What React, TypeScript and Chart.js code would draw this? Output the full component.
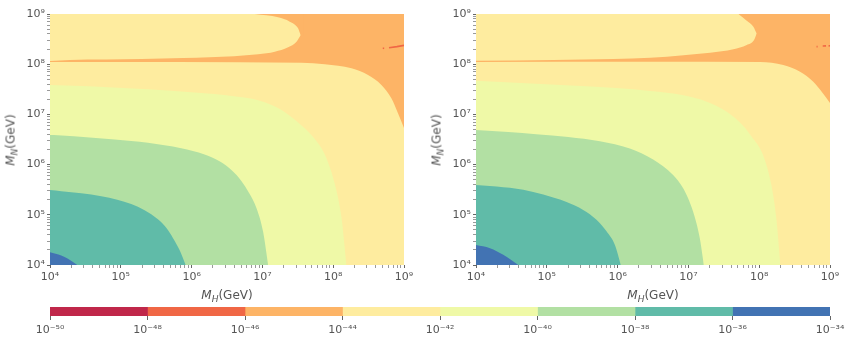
import React, { useEffect, useRef } from 'react';
import { Chart, registerables } from 'chart.js';

Chart.register(...registerables);

// ---------- colour levels (log10 of the quantity) ----------
const levelEdges = [-50, -48, -46, -44, -42, -40, -38, -36, -34];
const levelColors = ['#c0274a', '#f06745', '#fdb466', '#feec9f', '#eff9a7', '#b2e0a3', '#60bba8', '#4273b3'];

// ---------- axes ----------
const axisDecades = [4, 5, 6, 7, 8, 9];
const minorSteps = [2, 3, 4, 5, 6, 7, 8, 9];
const xTitle = 'H';
const yTitle = 'N';

// ---------- contour boundaries, [log10 M_H, log10 M_N] ----------
const fullTop = [[4, 9], [9, 9]];

// left panel
const leftBubbleLow = [[4, 8.064], [4.28, 8.084], [5.29, 8.104], [5.88, 8.124], [6.25, 8.14], [6.6, 8.16], [6.94, 8.197], [7.175, 8.249], [7.363, 8.337], [7.482, 8.448], [7.542, 8.582]];
const leftBubbleUp = [[6.893, 9.0], [7.222, 8.934], [7.387, 8.847], [7.504, 8.715], [7.542, 8.582], [7.575, 8.56]];
const leftYellow = [[4, 8.044], [7.552, 8.03], [7.881, 7.998], [8.258, 7.918], [8.492, 7.785], [8.681, 7.586], [8.822, 7.321], [8.915, 7.022], [9, 6.73]];
const leftLime = [[4, 7.586], [4.44, 7.566], [4.82, 7.54], [5.38, 7.5], [5.95, 7.446], [6.32, 7.406], [6.6, 7.36], [6.94, 7.28], [7.27, 7.088], [7.504, 6.84], [7.716, 6.55], [7.881, 6.2], [8.022, 5.62], [8.117, 4.95], [8.187, 4.0]];
const leftGreen = [[4, 6.59], [4.11, 6.585], [4.56, 6.54], [4.913, 6.5], [5.383, 6.435], [5.853, 6.325], [6.183, 6.2], [6.413, 6.05], [6.57, 5.88], [6.7, 5.68], [6.81, 5.44], [6.917, 5.129], [7.01, 4.663], [7.081, 4.0]];
const leftTeal = [[4, 5.494], [4.16, 5.47], [4.442, 5.43], [4.724, 5.37], [4.95, 5.3], [5.147, 5.215], [5.336, 5.09], [5.524, 4.91], [5.642, 4.74], [5.736, 4.54], [5.83, 4.299], [5.917, 4.0]];
const leftBlue = [[4, 4.253], [4.159, 4.19], [4.254, 4.125], [4.385, 4.0]];
const leftStreaks = [[[8.7, 8.317], [8.72, 8.317]], [[8.788, 8.329], [8.9, 8.35], [9, 8.376]]];

// right panel
const rightBubbleLow = [[4, 8.07], [5.091, 8.084], [5.938, 8.104], [6.46, 8.129], [6.93, 8.18], [7.307, 8.229], [7.635, 8.297], [7.824, 8.382], [7.927, 8.482], [7.966, 8.616]];
const rightBubbleUp = [[7.706, 9.0], [7.824, 8.867], [7.918, 8.747], [7.966, 8.616], [7.998, 8.595]];
const rightYellow = [[4, 8.044], [6.46, 8.05], [8.012, 8.044], [8.341, 7.984], [8.577, 7.851], [8.764, 7.651], [8.883, 7.452], [9, 7.227]];
const rightLime = [[4, 7.671], [4.569, 7.631], [5.274, 7.58], [5.98, 7.525], [6.46, 7.466], [6.93, 7.38], [7.26, 7.253], [7.542, 7.054], [7.776, 6.77], [7.892, 6.56], [8.054, 6.191], [8.172, 5.594], [8.242, 4.93], [8.299, 4.0]];
const rightGreen = [[4, 6.689], [4.456, 6.65], [4.851, 6.605], [5.303, 6.55], [5.75, 6.465], [6.173, 6.32], [6.502, 6.1], [6.784, 5.793], [6.926, 5.528], [7.067, 5.062], [7.161, 4.532], [7.218, 4.0]];
const rightTeal = [[4, 5.594], [4.291, 5.565], [4.668, 5.5], [4.95, 5.405], [5.279, 5.255], [5.514, 5.096], [5.702, 4.9], [5.843, 4.67], [5.962, 4.398], [6.046, 4.0]];
const rightBlue = [[4, 4.398], [4.198, 4.335], [4.385, 4.205], [4.498, 4.1], [4.597, 4.0]];
const rightStreaks = [[[8.81, 8.35], [8.825, 8.35]], [[8.897, 8.363], [8.944, 8.365]], [[8.98, 8.366], [9, 8.367]]];

// ---------- helpers ----------
const TICK_COLOR = '#555555';
const FONT = 'DejaVu Sans';
const SUP: Record<string, string> = { '0': '⁰', '1': '¹', '2': '²', '3': '³', '4': '⁴', '5': '⁵', '6': '⁶', '7': '⁷', '8': '⁸', '9': '⁹', '-': '⁻' };

function powLabel(v: number): string {
  const l = Math.log10(v);
  const e = Math.round(l);
  if (Math.abs(l - e) > 1e-6) return '';
  return '10' + String(e).split('').map((c) => SUP[c]).join('');
}

function isPow(v: number): boolean {
  const l = Math.log10(v);
  return Math.abs(l - Math.round(l)) < 1e-6;
}

function logTicks() {
  const t: { value: number; major?: boolean }[] = [];
  axisDecades.forEach((d, i) => {
    t.push({ value: Math.pow(10, d), major: true });
    if (i < axisDecades.length - 1) minorSteps.forEach((m) => t.push({ value: m * Math.pow(10, d) }));
  });
  return t;
}

type Pt = number[];
interface Layer { pts: Pt[]; color: string; fill: string }

function axisOpts(isX: boolean) {
  return {
    type: 'logarithmic' as const,
    min: Math.pow(10, axisDecades[0]),
    max: Math.pow(10, axisDecades[axisDecades.length - 1]),
    afterBuildTicks: (s: any) => { s.ticks = logTicks(); },
    afterFit: (s: any) => { if (isX) s.height = 40; else s.width = 50; },
    ticks: {
      callback: (v: any) => powLabel(Number(v)),
      autoSkip: false,
      maxRotation: 0,
      minRotation: 0,
      color: TICK_COLOR,
      font: { family: FONT, size: 11 },
      padding: isX ? 3 : 2,
    },
    grid: {
      drawOnChartArea: false,
      drawTicks: true,
      tickLength: 3,
      tickWidth: 1,
      tickColor: (ctx: any) => (ctx.tick && isPow(ctx.tick.value) ? '#666666' : '#9a9a9a'),
    },
    border: { display: false },
  };
}

function Panel({ layers, streaks, left }: { layers: Layer[]; streaks: Pt[][]; left: number }) {
  const ref = useRef<HTMLCanvasElement>(null);
  useEffect(() => {
    const toXY = (p: Pt) => ({ x: Math.pow(10, p[0]), y: Math.pow(10, p[1]) });
    const ds: any[] = [];
    layers.forEach((l) =>
      ds.push({
        data: l.pts.map(toXY),
        fill: l.fill,
        backgroundColor: l.color,
        borderColor: 'rgba(0,0,0,0)',
        borderWidth: 0,
        pointRadius: 0,
        cubicInterpolationMode: 'monotone',
      })
    );
    streaks.forEach((s) =>
      ds.push({ data: s.map(toXY), fill: false, borderColor: levelColors[1], borderWidth: 1.6, pointRadius: 0 })
    );
    const n = ds.length;
    ds.forEach((d, i) => { d.order = n - i; });
    const chart = new Chart(ref.current as HTMLCanvasElement, {
      type: 'line',
      data: { datasets: ds },
      options: {
        animation: false,
        responsive: false,
        events: [],
        layout: { padding: { top: 14, right: 16, left: 0, bottom: 0 } },
        plugins: { legend: { display: false }, tooltip: { enabled: false } },
        elements: { point: { radius: 0 } },
        scales: { x: axisOpts(true) as any, y: axisOpts(false) as any },
      },
    });
    return () => chart.destroy();
  }, []);
  return <canvas ref={ref} width={420} height={305} style={{ position: 'absolute', left, top: 0 }} />;
}

function ColorBar() {
  const ref = useRef<HTMLCanvasElement>(null);
  useEffect(() => {
    const chart = new Chart(ref.current as HTMLCanvasElement, {
      type: 'bar',
      data: {
        labels: [''],
        datasets: levelColors.map((c, i) => ({
          data: [[Math.pow(10, levelEdges[i]), Math.pow(10, levelEdges[i + 1])]] as any,
          backgroundColor: c,
          borderWidth: 0,
          grouped: false,
          barPercentage: 1,
          categoryPercentage: 1,
        })),
      },
      options: {
        indexAxis: 'y',
        animation: false,
        responsive: false,
        events: [],
        layout: { padding: { top: 7, left: 50, right: 23, bottom: 0 } },
        plugins: { legend: { display: false }, tooltip: { enabled: false } },
        scales: {
          x: {
            type: 'logarithmic',
            min: Math.pow(10, levelEdges[0]),
            max: Math.pow(10, levelEdges[levelEdges.length - 1]),
            afterBuildTicks: (s: any) => { s.ticks = levelEdges.map((e) => ({ value: Math.pow(10, e), major: true })); },
            afterFit: (s: any) => { s.height = 30; },
            ticks: {
              callback: (v: any) => powLabel(Number(v)),
              autoSkip: false,
              maxRotation: 0,
              color: TICK_COLOR,
              font: { family: FONT, size: 11 },
              padding: 4,
            },
            grid: { drawOnChartArea: false, drawTicks: true, tickLength: 4, tickColor: '#666666' },
            border: { display: false },
          } as any,
          y: { display: false, stacked: false },
        },
      },
    });
    return () => chart.destroy();
  }, []);
  return <canvas ref={ref} width={853} height={46} style={{ position: 'absolute', left: 0, top: 300 }} />;
}

const labelStyle: React.CSSProperties = {
  position: 'absolute',
  fontFamily: FONT,
  fontSize: 12,
  color: TICK_COLOR,
  whiteSpace: 'nowrap',
  lineHeight: '14px',
};

function AxisTitle({ sub, cx, cy, rotate }: { sub: string; cx: number; cy: number; rotate?: boolean }) {
  return (
    <div
      style={{
        ...labelStyle,
        left: cx,
        top: cy,
        transform: `translate(-50%, -50%)${rotate ? ' rotate(-90deg)' : ''}`,
      }}
    >
      <span style={{ fontStyle: 'italic' }}>M</span>
      <span style={{ fontSize: 9, fontStyle: 'italic', position: 'relative', top: 3 }}>{sub}</span>
      <span>(GeV)</span>
    </div>
  );
}

export default function App() {
  const leftLayers: Layer[] = [
    { pts: fullTop, color: levelColors[2], fill: 'start' },
    { pts: leftBubbleLow, color: levelColors[3], fill: 'end' },
    { pts: leftBubbleUp, color: levelColors[2], fill: 'end' },
    { pts: leftYellow, color: levelColors[3], fill: 'start' },
    { pts: leftLime, color: levelColors[4], fill: 'start' },
    { pts: leftGreen, color: levelColors[5], fill: 'start' },
    { pts: leftTeal, color: levelColors[6], fill: 'start' },
    { pts: leftBlue, color: levelColors[7], fill: 'start' },
  ];
  const rightLayers: Layer[] = [
    { pts: fullTop, color: levelColors[2], fill: 'start' },
    { pts: rightBubbleLow, color: levelColors[3], fill: 'end' },
    { pts: rightBubbleUp, color: levelColors[2], fill: 'end' },
    { pts: rightYellow, color: levelColors[3], fill: 'start' },
    { pts: rightLime, color: levelColors[4], fill: 'start' },
    { pts: rightGreen, color: levelColors[5], fill: 'start' },
    { pts: rightTeal, color: levelColors[6], fill: 'start' },
    { pts: rightBlue, color: levelColors[7], fill: 'start' },
  ];
  return (
    <div style={{ position: 'absolute', left: 0, top: 0, width: 853, height: 346, background: '#fff', overflow: 'hidden' }}>
      <Panel layers={leftLayers} streaks={leftStreaks} left={0} />
      <Panel layers={rightLayers} streaks={rightStreaks} left={426} />
      <ColorBar />
      <AxisTitle sub={xTitle} cx={227} cy={295} />
      <AxisTitle sub={xTitle} cx={653} cy={295} />
      <AxisTitle sub={yTitle} cx={11} cy={140} rotate />
      <AxisTitle sub={yTitle} cx={437} cy={140} rotate />
    </div>
  );
}
